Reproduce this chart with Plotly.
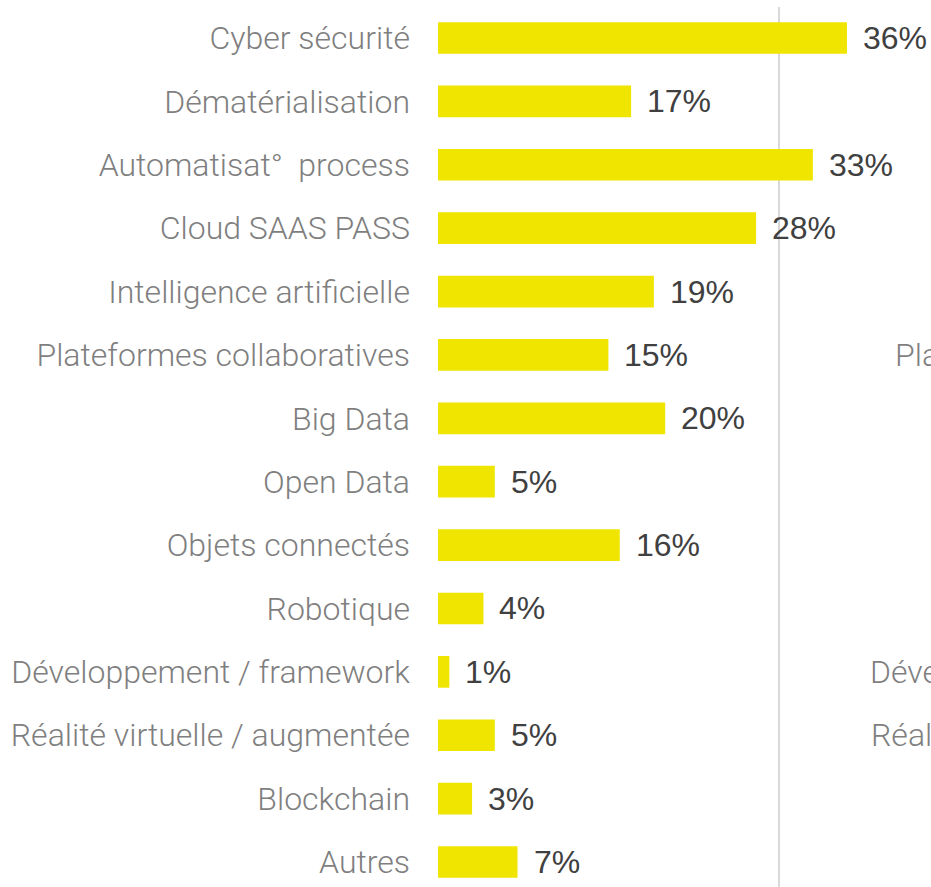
import plotly.graph_objects as go

categories = [
    "Cyber sécurité",
    "Dématérialisation",
    "Automatisat°  process",
    "Cloud SAAS PASS",
    "Intelligence artificielle",
    "Plateformes collaboratives",
    "Big Data",
    "Open Data",
    "Objets connectés",
    "Robotique",
    "Développement / framework",
    "Réalité virtuelle / augmentée",
    "Blockchain",
    "Autres",
]
values = [36, 17, 33, 28, 19, 15, 20, 5, 16, 4, 1, 5, 3, 7]

# visible start of the neighbouring chart's labels (cut by the right edge)
next_rows = ["Plateformes collaboratives", "Développement / framework", "Réalité virtuelle / augmentée"]
next_text = ["Pla", "Déve", "Réal"]
next_x = [0.9229, 0.8722, 0.8742]

YELLOW = "#F0E500"
LABEL_GREY = "#7f7f7f"
VALUE_GREY = "#404040"
label_font = dict(family="Roboto", size=32, color=LABEL_GREY, weight=300)

fig = go.Figure()
fig.add_trace(go.Bar(
    x=values,
    y=categories,
    orientation="h",
    width=0.5,
    marker=dict(color=YELLOW, line=dict(width=0)),
))

# value labels just after the bar end
for cat, v in zip(categories, values):
    fig.add_annotation(
        x=v, y=cat, xref="x", yref="y", text=f"{v}%", showarrow=False,
        xanchor="left", xshift=14,
        font=dict(family="Liberation Sans, Arial", size=32, color=VALUE_GREY),
    )

for row, txt, xp in zip(next_rows, next_text, next_x):
    fig.add_annotation(
        x=xp, xref="paper", y=row, yref="y",
        text=txt, showarrow=False, xanchor="left",
        font=label_font,
    )

px_per_unit = 11.36
fig.update_layout(
    width=931, height=887,
    margin=dict(l=438, r=0, t=7, b=0),
    plot_bgcolor="white", paper_bgcolor="white",
    showlegend=False,
    xaxis=dict(
        range=[0, 493 / px_per_unit],
        tickvals=[0, 30, 60],
        showticklabels=False,
        showgrid=True, gridcolor="#d9d9d9", gridwidth=1.5,
        zeroline=False, showline=False,
    ),
    yaxis=dict(
        categoryorder="array", categoryarray=categories,
        range=[13.394, -0.489],
        showgrid=False, zeroline=False, showline=False,
        ticks="", ticklabelstandoff=27,
        tickfont=label_font,
    ),
)

fig.write_html(
    "out.html",
    config={"displayModeBar": False},
    post_script="document.body.style.margin='0';document.body.style.overflow='hidden';",
)
